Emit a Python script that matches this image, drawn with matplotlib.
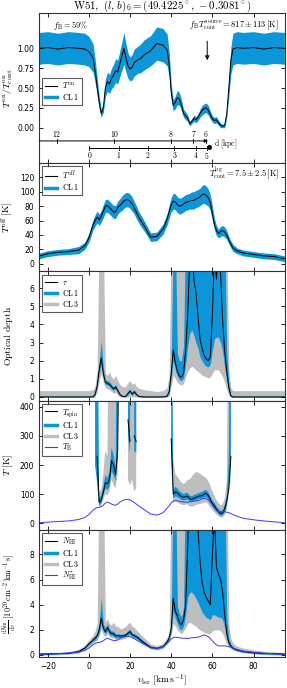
import numpy as np
import matplotlib
matplotlib.use("Agg")
import matplotlib.pyplot as plt
from matplotlib.lines import Line2D

nan = np.nan
TOP = 1000.0

vel = [-24, -20, -15, -10, -5, -2, 0, 2, 3, 4, 5, 6, 7, 8, 9, 10, 11, 12, 13, 14, 15, 16, 17, 18, 19,
       20, 21, 22, 23, 24, 25, 27, 30, 33, 36, 38, 39, 40, 41, 42, 43, 44, 45, 46, 47, 48, 49, 50, 51,
       52, 53, 54, 55, 56, 57, 58, 59, 60, 61, 62, 63, 64, 65, 66, 67, 68, 69, 70, 72, 75, 80, 85, 90, 95]

# Panel 1: T_on / T_on_cont
t_on = [1.00, 1.01, 0.99, 1.01, 1.00, 0.99, 0.96, 0.88, 0.72, 0.52, 0.32, 0.18, 0.25, 0.50, 0.58,
        0.55, 0.62, 0.66, 0.72, 0.70, 0.80, 0.90, 1.00, 0.88, 0.78, 0.74, 0.76, 0.82, 0.84, 0.86, 0.87,
        0.92, 0.97, 1.06, 1.04, 0.98, 0.80, 0.45, 0.28, 0.32, 0.38, 0.36, 0.28, 0.18, 0.15, 0.12, 0.05,
        0.08, 0.12, 0.10, 0.13, 0.18, 0.22, 0.24, 0.25, 0.22, 0.16, 0.11, 0.09, 0.10, 0.06, 0.03, 0.02,
        0.03, 0.18, 0.50, 0.85, 0.99, 1.01, 1.00, 1.01, 0.99, 1.01, 1.00]
t_on_err = [0.20, 0.20, 0.20, 0.20, 0.20, 0.20, 0.19, 0.18, 0.15, 0.11, 0.08, 0.05, 0.06, 0.11, 0.12,
            0.12, 0.13, 0.14, 0.15, 0.15, 0.16, 0.18, 0.20, 0.18, 0.16, 0.15, 0.16, 0.17, 0.17, 0.17, 0.18,
            0.19, 0.19, 0.21, 0.21, 0.20, 0.16, 0.10, 0.07, 0.08, 0.09, 0.08, 0.07, 0.05, 0.05, 0.04, 0.03,
            0.03, 0.04, 0.04, 0.04, 0.05, 0.06, 0.06, 0.06, 0.06, 0.05, 0.04, 0.04, 0.04, 0.03, 0.03, 0.02,
            0.03, 0.05, 0.11, 0.17, 0.20, 0.20, 0.20, 0.20, 0.20, 0.20, 0.20]

# Panel 2: T_off
t_off = [11, 14, 16, 17, 19, 25, 36, 54, 60, 65, 61, 66, 73, 80, 81, 78, 75, 72, 72, 78, 81, 84, 87, 89,
         89, 87, 83, 78, 72, 66, 61, 52, 37, 38, 48, 62, 72, 82, 87, 86, 82, 80, 81, 83, 85, 86, 87, 88,
         88, 90, 91, 93, 96, 97, 95, 92, 85, 70, 55, 46, 42, 45, 46, 44, 40, 33, 27, 22, 18, 15, 13, 11,
         10, 7]
t_off_err = [4, 4, 4, 4, 5, 5, 6, 7, 8, 8, 8, 8, 9, 9, 9, 9, 9, 9, 9, 9, 9, 10, 10, 10, 10, 10, 10, 9, 9,
             8, 8, 7, 6, 6, 7, 8, 9, 10, 11, 11, 11, 11, 11, 11, 11, 11, 11, 12, 12, 12, 12, 12, 13, 13, 13,
             12, 11, 10, 8, 7, 6, 7, 7, 7, 6, 5, 5, 5, 4, 4, 4, 4, 4, 4]

# Panel 3: optical depth
tau = [0, 0, 0, 0, 0, 0, 0, 0, 0.15, 0.6, 1.5, 2.15, 1.3, 0.8, 0.75, 0.7, 0.55, 0.45, 0.55, 0.35, 0.15,
       0.05, 0.02, 0.05, 0.2, 0.33, 0.15, 0.3, 0.15, 0.05, 0.02, 0, 0, 0, 0, 0.05, 0.3, 1.3, 2.6, 1.9, 1.4,
       1.15, 1.1, 1.3, 2.5, 4.5, 7.5, 9, 6.5, 5.8, 4.5, 3.2, 2.7, 2.3, 2.1, 2.0, 2.2, 4.5, 8, 6.5, 9, 6.8,
       4.2, 2.5, 1.4, 0.5, 0.05, 0, 0, 0, 0, 0, 0, 0]
tau_cl1_lo = [0, 0, 0, 0, 0, 0, 0, 0, 0.1, 0.5, 1.3, 1.8, 1.1, 0.7, 0.65, 0.6, 0.45, 0.37, 0.45, 0.27, 0.1,
              0.02, 0, 0.02, 0.13, 0.25, 0.09, 0.22, 0.09, 0.02, 0, 0, 0, 0, 0, 0.02, 0.2, 1.0, 2.0, 1.5,
              1.15, 0.95, 0.9, 1.05, 1.8, 2.8, 3.5, 3.7, 3.4, 3.0, 2.7, 2.2, 2.0, 1.8, 1.7, 1.65, 1.8, 2.6,
              3.2, 3.3, 3.3, 3.0, 2.5, 1.6, 0.9, 0.3, 0.02, 0, 0, 0, 0, 0, 0, 0]
tau_cl1_hi = [0.05, 0.05, 0.05, 0.05, 0.05, 0.05, 0.05, 0.06, 0.2, 0.75, 1.9, 3.1, 1.6, 0.95, 0.9, 0.85,
              0.68, 0.56, 0.68, 0.45, 0.22, 0.1, 0.06, 0.1, 0.3, 0.45, 0.22, 0.4, 0.22, 0.1, 0.06, 0.05,
              0.05, 0.05, 0.05, 0.1, 0.45, 1.8, 9, 9, 2.4, 2.0, 2.0, 2.8, 9, 9, 9, 9, 9, 9, 9, 9, 9, 9, 9, 9,
              9, 9, 9, 9, 9, 9, 9, 9, 2.5, 0.8, 0.12, 0.05, 0.05, 0.05, 0.05, 0.05, 0.05, 0.05]
tau_cl3_lo = [0, 0, 0, 0, 0, 0, 0, 0, 0, 0.3, 0.9, 1.3, 0.8, 0.5, 0.45, 0.4, 0.3, 0.2, 0.25, 0.1, 0, 0, 0,
              0, 0, 0.05, 0, 0, 0, 0, 0, 0, 0, 0, 0, 0, 0.05, 0.6, 1.2, 1.0, 0.8, 0.7, 0.65, 0.75, 1.1, 1.4,
              1.6, 1.7, 1.6, 1.5, 1.4, 1.3, 1.2, 1.15, 1.1, 1.05, 1.1, 1.3, 1.5, 1.5, 1.5, 1.3, 1.1, 0.8,
              0.4, 0.1, 0, 0, 0, 0, 0, 0, 0, 0]
tau_cl3_hi = [0.35, 0.35, 0.35, 0.35, 0.35, 0.35, 0.35, 0.4, 0.6, 1.5, 9, 9, 9, 1.3, 1.2, 1.4, 1.1, 1.0,
              1.2, 0.9, 0.7, 0.6, 0.55, 0.6, 0.8, 0.9, 0.7, 0.8, 0.6, 0.5, 0.45, 0.4, 0.35, 0.3, 0.35, 0.5,
              1.2, 9, 9, 9, 9, 9, 9, 9, 9, 9, 9, 9, 9, 9, 9, 9, 9, 9, 9, 9, 9, 9, 9, 9, 9, 9, 9, 9, 9, 1.5,
              0.5, 0.35, 0.35, 0.35, 0.35, 0.35, 0.35, 0.35]

# Panel 4: spin temperature and brightness temperature
t_spin = [nan, nan, nan, nan, nan, nan, nan, nan, nan, 230, 72, 80, 105, 140, 135, 150, 215, 200, 168, 250,
          TOP, nan, nan, nan, 355, 280, nan, 300, 280, nan, nan, nan, nan, nan, nan, nan, nan, 290, 100,
          108, 105, 97, 92, 89, 92, 93, 84, 82, 86, 88, 92, 94, 95, 100, 103, 95, 82, 68, 60, 48, 40, 33,
          35, 50, 75, 120, 230, nan, nan, nan, nan, nan, nan, nan]
t_spin_cl1_lo = [nan, nan, nan, nan, nan, nan, nan, nan, 200, 140, 60, 68, 95, 120, 115, 125, 180, 165,
                 145, 220, TOP, nan, nan, nan, 300, 240, nan, 250, 240, nan, nan, nan, nan, nan, nan, nan,
                 nan, 250, 85, 92, 90, 85, 80, 78, 80, 82, 74, 72, 76, 78, 82, 84, 85, 88, 90, 83, 72, 58,
                 50, 40, 32, 26, 27, 38, 62, 140, 220, nan, nan, nan, nan, nan, nan, nan]
t_spin_cl1_hi = [nan, nan, nan, nan, nan, nan, nan, nan, TOP, TOP, 85, 95, 125, 165, 155, 175, 260, 235,
                 195, TOP, TOP, nan, nan, nan, TOP, TOP, nan, TOP, TOP, nan, nan, nan, nan, nan, nan, nan,
                 nan, TOP, 115, 125, 120, 110, 105, 100, 104, 105, 95, 93, 97, 99, 103, 105, 107, 112, 115,
                 107, 93, 78, 70, 58, 50, 42, 45, 62, 95, 220, TOP, nan, nan, nan, nan, nan, nan, nan]
t_spin_cl3_lo = [nan, nan, nan, nan, nan, nan, nan, nan, nan, 140, 55, 62, 80, 100, 95, 110, 150, 130,
                 120, 170, TOP, nan, nan, nan, 150, 130, 150, 110, 120, nan, nan, nan, nan, nan, nan, nan,
                 nan, 200, 70, 75, 72, 68, 64, 62, 64, 65, 58, 56, 60, 62, 65, 66, 68, 70, 72, 65, 55, 45,
                 38, 30, 24, 20, 20, 28, 45, 100, 150, nan, nan, nan, nan, nan, nan, nan]
t_spin_cl3_hi = [nan, nan, nan, nan, nan, nan, nan, nan, nan, 260, 105, 115, 170, 250, 230, TOP, TOP, TOP,
                 TOP, TOP, TOP, nan, nan, nan, TOP, TOP, TOP, TOP, TOP, nan, nan, nan, nan, nan, nan, nan,
                 nan, TOP, 220, 170, 160, 150, 140, 135, 140, 150, 150, 160, 170, 175, 175, 170, 165, 160,
                 155, 145, 130, 110, 95, 80, 70, 62, 65, 85, 140, TOP, TOP, nan, nan, nan, nan, nan, nan, nan]
t_b = [2, 4, 6, 8, 13, 20, 30, 45, 50, 54, 55, 57, 62, 70, 73, 70, 66, 63, 62, 66, 72, 77, 80, 82, 82, 80,
       76, 72, 66, 61, 56, 46, 32, 28, 36, 52, 60, 70, 76, 78, 77, 75, 74, 73, 73, 72, 74, 75, 76, 77, 78,
       80, 84, 86, 84, 80, 72, 62, 52, 44, 40, 39, 40, 40, 38, 36, 34, 30, 24, 17, 12, 8, 5, 2]

# Panel 5: column density per velocity
n_hi = [0.08, 0.09, 0.11, 0.14, 0.28, 0.55, 0.9, 1.2, 1.35, 1.55, 2.0, 2.95, 2.15, 1.85, 2.2, 1.85, 1.7,
        1.7, 1.5, 1.55, 1.5, 1.52, 1.55, 1.6, 1.75, 1.85, 1.6, 1.55, 1.45, 1.35, 1.2, 0.95, 0.62, 0.53,
        0.68, 1.05, 1.35, 2.1, 4.5, 3.5, 3.1, 2.6, 2.4, 2.8, 4.0, 8.5, 14, 16, 13, 12, 10, 7.5, 5.8, 5.0,
        4.6, 4.3, 4.0, 8.0, 11, 7.0, 6.4, 6.0, 5.0, 3.2, 1.7, 1.0, 0.7, 0.55, 0.4, 0.28, 0.18, 0.12, 0.1,
        0.08]
n_cl1_lo = [0.04, 0.05, 0.07, 0.1, 0.22, 0.48, 0.8, 1.08, 1.2, 1.38, 1.75, 2.5, 1.9, 1.65, 1.95, 1.65,
            1.52, 1.52, 1.35, 1.4, 1.36, 1.38, 1.42, 1.47, 1.6, 1.68, 1.46, 1.42, 1.32, 1.22, 1.08, 0.85,
            0.55, 0.47, 0.6, 0.95, 1.2, 1.85, 3.5, 2.9, 2.5, 2.1, 2.0, 2.3, 3.2, 4.6, 5.0, 5.0, 4.8, 4.5,
            4.2, 3.8, 3.4, 3.2, 3.0, 2.9, 2.8, 3.2, 3.2, 3.1, 3.0, 3.0, 2.8, 2.2, 1.2, 0.8, 0.58, 0.46,
            0.33, 0.22, 0.13, 0.08, 0.06, 0.04]
n_cl1_hi = [0.12, 0.13, 0.15, 0.19, 0.34, 0.63, 1.0, 1.32, 1.5, 1.75, 2.4, 4.6, 2.5, 2.1, 2.5, 2.1, 1.9,
            1.9, 1.68, 1.72, 1.65, 1.66, 1.68, 1.74, 1.95, 2.05, 1.76, 1.7, 1.6, 1.5, 1.34, 1.06, 0.7, 0.6,
            0.76, 1.16, 1.52, 2.5, 15, 15, 3.9, 3.3, 3.0, 3.8, 15, 15, 15, 15, 15, 15, 15, 15, 15, 15, 15,
            15, 15, 15, 15, 15, 15, 15, 15, 15, 3.0, 1.3, 0.85, 0.66, 0.48, 0.35, 0.24, 0.17, 0.15, 0.12]
n_cl3_lo = [0.0, 0.0, 0.02, 0.05, 0.15, 0.38, 0.7, 0.95, 1.05, 1.2, 1.5, 2.0, 1.6, 1.45, 1.7, 1.45, 1.35,
            1.35, 1.2, 1.25, 1.2, 1.25, 1.3, 1.35, 1.45, 1.55, 1.35, 1.3, 1.2, 1.1, 0.98, 0.77, 0.48, 0.4,
            0.52, 0.85, 1.05, 1.6, 2.5, 2.3, 2.0, 1.8, 1.7, 1.9, 2.2, 2.5, 2.6, 2.5, 2.4, 2.3, 2.1, 2.0,
            1.9, 1.8, 1.75, 1.7, 1.7, 1.9, 2.0, 2.0, 2.0, 1.9, 1.7, 1.3, 0.9, 0.65, 0.5, 0.4, 0.28, 0.17,
            0.08, 0.03, 0.0, 0.0]
n_cl3_hi = [0.18, 0.2, 0.22, 0.26, 0.45, 0.78, 1.2, 1.6, 1.9, 2.5, 15, 15, 15, 2.6, 2.9, 2.5, 2.4, 2.6,
            2.3, 2.3, 2.1, 2.1, 2.2, 2.3, 2.5, 2.6, 2.3, 2.2, 2.0, 1.85, 1.65, 1.35, 0.88, 0.75, 0.9, 1.4,
            1.9, 15, 15, 15, 15, 15, 15, 15, 15, 15, 15, 15, 15, 15, 15, 15, 15, 15, 15, 15, 15, 15, 15,
            15, 15, 15, 15, 15, 15, 2.5, 1.3, 0.95, 0.7, 0.55, 0.4, 0.3, 0.25, 0.2]
n_star = [0.04, 0.07, 0.11, 0.15, 0.24, 0.36, 0.55, 0.82, 0.91, 0.98, 1.0, 1.04, 1.13, 1.27, 1.33, 1.27,
          1.2, 1.15, 1.13, 1.2, 1.31, 1.4, 1.46, 1.49, 1.49, 1.46, 1.38, 1.31, 1.2, 1.11, 1.02, 0.84, 0.58,
          0.51, 0.66, 0.95, 1.09, 1.27, 1.38, 1.42, 1.4, 1.37, 1.35, 1.33, 1.33, 1.31, 1.35, 1.37, 1.38,
          1.4, 1.42, 1.46, 1.53, 1.6, 1.55, 1.46, 1.31, 1.13, 0.95, 0.8, 0.73, 0.71, 0.73, 0.73, 0.69,
          0.66, 0.62, 0.55, 0.44, 0.31, 0.22, 0.15, 0.09, 0.04]

# kinematic distance axis
far_d = [12, 10, 8, 7, 6]
far_v = [-15.6, 12.4, 40.0, 50.8, 56.8]
near_d = [0, 1, 2, 3, 4, 5]
near_v = [0.2, 14.5, 28.7, 41.6, 52.0, 57.3]

# annotations
f_b = 59
t_source = 817
t_source_err = 113
t_bg = 7.5
t_bg_err = 2.5
src_v = 57.5

# ---------------------------------------------------------------------------
plt.rcParams.update({
    "mathtext.fontset": "cm",
    "font.family": ["DejaVu Sans"],
    "font.size": 5.5,
    "xtick.direction": "in",
    "ytick.direction": "in",
    "xtick.top": True,
    "ytick.right": True,
    "xtick.major.size": 3,
    "ytick.major.size": 3,
    "xtick.major.width": 0.6,
    "ytick.major.width": 0.6,
    "xtick.labelsize": 5.5,
    "ytick.labelsize": 5.5,
    "axes.linewidth": 0.8,
    "axes.edgecolor": "#333333",
    "legend.fontsize": 5.7,
})

BLUE = "#0a96d8"
GRAY = "#bebebe"
TBCOL = "#3a3aff"

v = np.array(vel, dtype=float)
W, H = 287, 688
fig = plt.figure(figsize=(W / 100, H / 100), dpi=100)
fig.patch.set_facecolor("white")

left = 39.3 / W
width = (285 - 39.3) / W
edges = [13, 163, 271, 400.6, 530, 657]
axes = []
for i in range(5):
    top = 1 - edges[i] / H
    bot = 1 - edges[i + 1] / H
    ax = fig.add_axes([left, bot, width, top - bot])
    ax.set_xlim(-24.1, 95.3)
    ax.set_xticks([-20, 0, 20, 40, 60, 80])
    axes.append(ax)
ax1, ax2, ax3, ax4, ax5 = axes
for ax in axes[:-1]:
    ax.tick_params(labelbottom=False)


def leg(ax, handles, anchor):
    lg = ax.legend(handles=handles, loc="upper left", bbox_to_anchor=anchor, borderaxespad=0,
                   frameon=True, fancybox=False, handlelength=1.6, handletextpad=0.6,
                   borderpad=0.35, labelspacing=0.15)
    lg.get_frame().set_edgecolor("#333333")
    lg.get_frame().set_linewidth(0.8)
    return lg


def h_black(lab):
    return Line2D([], [], color="k", lw=0.8, label=lab)


h_cl1 = Line2D([], [], color=BLUE, lw=2.5, label=r"${\rm CL}\,1$")
h_cl3 = Line2D([], [], color=GRAY, lw=2.5, label=r"${\rm CL}\,3$")

# Panel 1
ton = np.array(t_on)
tone = np.array(t_on_err)
ax1.fill_between(v, ton - tone, ton + tone, color=BLUE, lw=0)
ax1.plot(v, ton, color="k", lw=0.7)
ax1.set_ylim(-0.445, 1.445)
ax1.set_yticks([0, 0.25, 0.5, 0.75, 1.0])
ax1.set_yticklabels(["0.00", "0.25", "0.50", "0.75", "1.00"])
ax1.set_ylabel(r"$T^{\rm on}/T^{\rm on}_{\rm cont}$", fontsize=7)
fig.text(left + width / 2, 1 - 6.5 / H, r"${\rm W51,}\ (l,\,b)_6 = (49.4225^\circ,\,-0.3081^\circ)$",
         fontsize=7.8, ha="center", va="center")
ax1.text(0.056, 0.92, r"$f_{\rm B} = %d\%%$" % f_b, transform=ax1.transAxes, fontsize=6, va="center")
ax1.text(0.975, 0.92, r"$f_{\rm B}\,T^{\rm source}_{\rm cont} = %d \pm %d\,[{\rm K}]$" % (t_source, t_source_err),
         transform=ax1.transAxes, fontsize=6, va="center", ha="right")
ax1.annotate("", xy=(src_v, 0.85), xytext=(src_v, 1.09),
             arrowprops=dict(arrowstyle="-|>", lw=0.7, ec="k", fc="#1a1acc", mutation_scale=6,
                             shrinkA=0, shrinkB=0))
leg(ax1, [h_black(r"$T^{\rm on}$"), h_cl1], (0.011, 0.567))

# distance axes
yf, yn = -0.167, -0.25
ax1.annotate("", xy=(57.9, yf), xytext=(-24.1, yf),
             arrowprops=dict(arrowstyle="-|>", lw=0.7, color="k", mutation_scale=5, shrinkA=0, shrinkB=0))
for d, vv in zip(far_d, far_v):
    ax1.plot([vv, vv], [yf - 0.025, yf + 0.025], color="k", lw=0.6)
    ax1.text(vv, yf + 0.09, r"$%d$" % d, ha="center", va="center", fontsize=5.5)
ax1.plot([near_v[0], 57.6], [yn, yn], color="k", lw=0.7)
ax1.plot([58.2], [yn + 0.012], "o", color="k", ms=2.5)
for d, vv in zip(near_d, near_v):
    ax1.plot([vv, vv], [yn - 0.025, yn + 0.025], color="k", lw=0.6)
    ax1.text(vv, yn - 0.1, r"$%d$" % d, ha="center", va="center", fontsize=5.5)
ax1.text(61.0, -0.205, r"${\rm d}\ [{\rm kpc}]$", ha="left", va="center", fontsize=5.5)

# Panel 2
toff = np.array(t_off, dtype=float)
toffe = np.array(t_off_err, dtype=float)
ax2.fill_between(v, toff - toffe, toff + toffe, color=BLUE, lw=0)
ax2.plot(v, toff, color="k", lw=0.7)
ax2.set_ylim(-10, 140)
ax2.set_yticks([0, 20, 40, 60, 80, 100, 120])
ax2.set_ylabel(r"$T^{\rm off}\ [{\rm K}]$", fontsize=7)
ax2.text(0.975, 0.91, r"$T^{\rm bg}_{\rm cont} = %.1f \pm %.1f\,[{\rm K}]$" % (t_bg, t_bg_err),
         transform=ax2.transAxes, fontsize=6, va="center", ha="right")
leg(ax2, [h_black(r"$T^{\rm off}$"), h_cl1], (0.011, 0.975))

# Panel 3
ax3.fill_between(v, tau_cl3_lo, tau_cl3_hi, color=GRAY, lw=0)
ax3.fill_between(v, tau_cl1_lo, tau_cl1_hi, color=BLUE, lw=0)
ax3.plot(v, tau, color="k", lw=0.7)
ax3.set_ylim(-0.2, 6.95)
ax3.set_yticks([0, 1, 2, 3, 4, 5, 6])
ax3.set_ylabel(r"${\rm Optical\ depth}$", fontsize=7)
leg(ax3, [h_black(r"$\tau$"), h_cl1, h_cl3], (0.011, 0.97))

# Panel 4
ax4.fill_between(v, t_spin_cl3_lo, t_spin_cl3_hi, color=GRAY, lw=0)
ax4.fill_between(v, t_spin_cl1_lo, t_spin_cl1_hi, color=BLUE, lw=0)
ax4.plot(v, t_spin, color="k", lw=0.7)
ax4.plot(v, t_b, color=TBCOL, lw=0.7)
ax4.set_ylim(-23, 421)
ax4.set_yticks([0, 100, 200, 300, 400])
ax4.set_ylabel(r"$T\ [{\rm K}]$", fontsize=7)
leg(ax4, [h_black(r"$T_{\rm spin}$"), h_cl1, h_cl3, Line2D([], [], color=TBCOL, lw=0.8, label=r"$T_{\rm B}$")],
    (0.011, 0.975))

# Panel 5
ax5.fill_between(v, n_cl3_lo, n_cl3_hi, color=GRAY, lw=0)
ax5.fill_between(v, n_cl1_lo, n_cl1_hi, color=BLUE, lw=0)
ax5.plot(v, n_hi, color="k", lw=0.7)
ax5.plot(v, n_star, color=TBCOL, lw=0.7)
ax5.set_ylim(-0.16, 9.95)
ax5.set_yticks([0, 2, 4, 6, 8])
ax5.set_ylabel(r"$\frac{{\rm d}N_{\rm HI}}{{\rm d}v}\ [10^{20}\,{\rm cm^{-2}\,km^{-1}\,s}]$", fontsize=5.8)
ax5.set_xlabel(r"$v_{\rm lsr}\ [{\rm km\,s^{-1}}]$", fontsize=7, labelpad=1)
leg(ax5, [h_black(r"$N_{\rm HI}$"), h_cl1, h_cl3,
          Line2D([], [], color=TBCOL, lw=0.8, label=r"$N^{*}_{\rm HI}$")], (0.011, 0.98))

for ax in axes[:-1]:
    ax.yaxis.set_label_coords(-0.10, 0.5)
ax5.yaxis.set_label_coords(-0.085, 0.5)

fig.savefig("out.png", dpi=100, facecolor="white")
